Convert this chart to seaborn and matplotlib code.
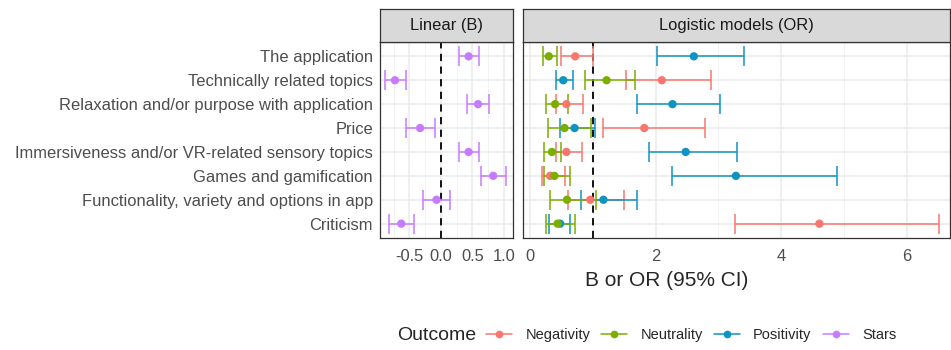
import pandas as pd
import matplotlib.pyplot as plt
import seaborn as sns
from matplotlib.lines import Line2D

topics = ["The application", "Technically related topics",
          "Relaxation and/or purpose with application", "Price",
          "Immersiveness and/or VR-related sensory topics", "Games and gamification",
          "Functionality, variety and options in app", "Criticism"]

outcomes = ["Negativity", "Neutrality", "Positivity", "Stars"]
colors = ["#F8766D", "#7CAE00", "#0F93C0", "#C77CFF"]

# linear model (B)
stars_est = [0.44, -0.73, 0.59, -0.33, 0.44, 0.83, -0.07, -0.63]
stars_lo = [0.28, -0.89, 0.42, -0.56, 0.28, 0.63, -0.29, -0.83]
stars_hi = [0.61, -0.56, 0.76, -0.10, 0.61, 1.04, 0.15, -0.43]

# logistic models (OR)
neg_est = [0.72, 2.10, 0.58, 1.82, 0.58, 0.32, 0.96, 4.61]
neg_lo = [0.50, 1.53, 0.41, 1.17, 0.41, 0.19, 0.60, 3.26]
neg_hi = [1.00, 2.89, 0.85, 2.79, 0.83, 0.56, 1.50, 6.52]

neu_est = [0.30, 1.22, 0.40, 0.55, 0.35, 0.39, 0.59, 0.44]
neu_lo = [0.21, 0.88, 0.25, 0.29, 0.22, 0.22, 0.32, 0.25]
neu_hi = [0.43, 1.67, 0.60, 0.97, 0.49, 0.64, 1.05, 0.71]

pos_est = [2.61, 0.53, 2.27, 0.71, 2.48, 3.28, 1.17, 0.48]
pos_lo = [2.02, 0.41, 1.71, 0.48, 1.89, 2.27, 0.81, 0.31]
pos_hi = [3.41, 0.69, 3.03, 1.04, 3.30, 4.89, 1.71, 0.64]

series = [("Negativity", "logit", neg_est, neg_lo, neg_hi),
          ("Positivity", "logit", pos_est, pos_lo, pos_hi),
          ("Neutrality", "logit", neu_est, neu_lo, neu_hi),
          ("Stars", "linear", stars_est, stars_lo, stars_hi)]

rows = []
for name, panel, est, lo, hi in series:
    for t, e, l, h in zip(topics, est, lo, hi):
        rows.append({"outcome": name, "panel": panel, "topic": t, "est": e, "lo": l, "hi": h})
df = pd.DataFrame(rows)
df["pos"] = df["topic"].map({t: i for i, t in enumerate(topics)})

palette = dict(zip(outcomes, colors))

sns.set_theme(style="white")
plt.rcParams["font.family"] = ["Liberation Sans", "DejaVu Sans"]

W, H = 951, 350
fig = plt.figure(figsize=(W / 100, H / 100), dpi=100)


def box(x0, y0, x1, y1):
    return [x0 / W, 1 - y1 / H, (x1 - x0) / W, (y1 - y0) / H]


ax_l = fig.add_axes(box(380, 42, 512.7, 238))
ax_r = fig.add_axes(box(522.7, 42, 950, 238))

panels = [(ax_l, "linear", (-0.967, 1.14), [-0.5, 0, 0.5, 1.0], ["-0.5", "0.0", "0.5", "1.0"],
           [-0.75, -0.25, 0.25, 0.75], 0, "Linear (B)", (380, 512.7)),
          (ax_r, "logit", (-0.116, 6.69), [0, 2, 4, 6], ["0", "2", "4", "6"],
           [1, 3, 5], 1, "Logistic models (OR)", (522.7, 950))]

for ax, panel, xlim, ticks, labels, minor, ref, title, (x0, x1) in panels:
    sub = df[df["panel"] == panel]
    ax.set_xlim(*xlim)
    ax.set_ylim(7.6, -0.6)
    ax.set_xticks(ticks)
    ax.set_xticklabels(labels, fontsize=11.9, color="#4D4D4D")
    ax.set_xticks(minor, minor=True)
    ax.set_yticks(range(len(topics)))
    ax.grid(which="major", color="#EBEBEB", lw=1.1)
    ax.grid(which="minor", axis="x", color="#F0F0F0", lw=0.6)
    ax.set_axisbelow(True)
    for s in ax.spines.values():
        s.set_color("#333333")
        s.set_linewidth(0.9)
    ax.tick_params(axis="x", which="major", length=3, color="#333333", pad=5)
    ax.tick_params(axis="x", which="minor", length=0)
    ax.axvline(ref, color="black", ls=(0, (4, 3)), lw=1.3, zorder=1.5)

    for name in sub["outcome"].unique():
        d = sub[sub["outcome"] == name]
        ax.errorbar(d["est"], d["pos"], xerr=[d["est"] - d["lo"], d["hi"] - d["est"]],
                    fmt="none", ecolor=palette[name], elinewidth=1.1, capsize=7.5,
                    capthick=1.1, zorder=2)
    sns.scatterplot(data=sub, x="est", y="pos", hue="outcome", palette=palette,
                    s=36, edgecolor="none", legend=False, ax=ax, zorder=3)
    ax.set_xlabel("")
    ax.set_ylabel("")

    strip = fig.add_axes(box(x0, 9.3, x1, 41.7))
    strip.set_facecolor("#D9D9D9")
    strip.set_xticks([])
    strip.set_yticks([])
    for s in strip.spines.values():
        s.set_color("#333333")
        s.set_linewidth(0.9)
    strip.text(0.5, 0.5, title, ha="center", va="center", fontsize=11.9, color="#1A1A1A",
               transform=strip.transAxes)

ax_l.set_yticklabels(topics, fontsize=11.9, color="#4D4D4D")
ax_l.tick_params(axis="y", length=3, color="#333333", pad=2)
ax_r.set_yticklabels([])
ax_r.tick_params(axis="y", length=0)

fig.text(667 / W, 1 - 281 / H, "B or OR (95% CI)", ha="center", va="center", fontsize=15)

fig.text(397 / W, 1 - 335 / H, "Outcome", ha="left", va="center", fontsize=14)
handles = [Line2D([0], [0], color=c, lw=1.1, marker="o", markersize=4.5) for c in colors]
fig.legend(handles, outcomes, ncol=4, loc="center left", bbox_to_anchor=(486 / W, 1 - 335 / H),
           frameon=False, fontsize=10.5, handlelength=1.8, handletextpad=0.9,
           columnspacing=0.75, borderpad=0, borderaxespad=0)

fig.savefig("out.png", dpi=100)
